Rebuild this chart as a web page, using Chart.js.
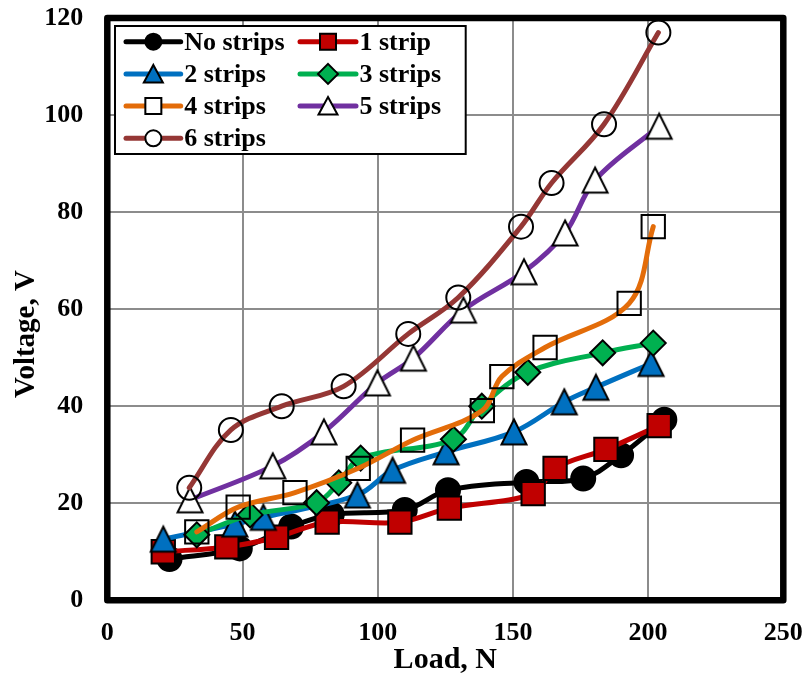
<!DOCTYPE html>
<html>
<head>
<meta charset="utf-8">
<script src="https://cdn.jsdelivr.net/npm/chart.js@4.4.1/dist/chart.umd.min.js"></script>
<style>
  html, body { margin: 0; padding: 0; background: #fff; }
  #wrap { width: 806px; height: 682px; }
</style>
</head>
<body>
<div id="wrap"><canvas id="c" width="806" height="682"></canvas></div>
<script>
// Voltage (V) against load (N) for strip counts 0 to 6
const seriesNames = ['No strips', '1 strip', '2 strips', '3 strips', '4 strips', '5 strips', '6 strips'];

const load0 = [23.0, 49.0, 68.0, 83.0, 110.0, 126.0, 155.0, 176.0, 190.0, 206.0];
const volt0 = [8.5, 10.7, 15.2, 17.7, 18.6, 22.7, 24.4, 25.1, 29.9, 37.2];

const load1 = [20.7, 44.2, 62.6, 81.3, 108.2, 126.5, 157.5, 165.6, 184.4, 204.1];
const volt1 = [10.0, 11.0, 13.0, 16.1, 16.1, 19.0, 22.0, 27.2, 31.1, 36.0];

const load2 = [20.7, 47.2, 57.7, 92.5, 105.5, 125.3, 150.4, 169.0, 180.7, 201.1];
const volt2 = [12.6, 15.7, 17.1, 21.7, 26.8, 30.6, 34.7, 40.9, 43.9, 48.8];

const load3 = [33.1, 52.8, 77.4, 85.6, 93.7, 128.0, 138.5, 155.5, 183.2, 201.9];
const volt3 = [13.5, 17.6, 20.1, 24.2, 29.3, 33.2, 40.0, 47.0, 51.0, 53.0];

const load4 = [33.1, 48.4, 69.4, 92.8, 112.9, 138.7, 145.9, 161.9, 193.0, 201.9];
const volt4 = [14.1, 19.2, 22.2, 27.2, 33.0, 39.1, 46.1, 52.1, 61.2, 77.0];

const load5 = [30.6, 61.2, 80.1, 99.9, 113.2, 131.7, 154.1, 169.3, 180.4, 204.1];
const volt5 = [20.7, 27.7, 34.7, 44.8, 49.9, 59.8, 67.7, 75.7, 86.6, 97.7];

const load6 = [30.3, 45.7, 64.5, 87.4, 111.3, 129.8, 153.0, 164.3, 183.7, 203.8];
const volt6 = [23.2, 35.1, 40.0, 44.1, 54.9, 62.4, 77.0, 86.0, 98.1, 117.0];

const loads = [load0, load1, load2, load3, load4, load5, load6];
const volts = [volt0, volt1, volt2, volt3, volt4, volt5, volt6];

const xTicks = [0, 50, 100, 150, 200, 250];
const yTicks = [0, 20, 40, 60, 80, 100, 120];

const lineColors = ['#000000', '#C00000', '#0070C0', '#00B050', '#E36C09', '#7030A0', '#953735'];
const markerKinds = ['dot', 'square', 'tri', 'diamond', 'openSquare', 'openTri', 'ring'];
const markerFills = ['#000000', '#C00000', '#0070C0', '#00B050', 'rgba(0,0,0,0)', '#FFFFFF', 'rgba(0,0,0,0)'];

const FONT = '"Liberation Serif", "Times New Roman", serif';

// Isosceles triangle marker (as tall as it is wide), centred on its bounding box
function triangleImage(fill) {
  const c = document.createElement('canvas');
  c.width = 30; c.height = 30;
  const g = c.getContext('2d');
  g.beginPath();
  g.moveTo(15, 2.5);
  g.lineTo(27.5, 27.5);
  g.lineTo(2.5, 27.5);
  g.closePath();
  g.fillStyle = fill;
  g.fill();
  g.lineWidth = 2;
  g.strokeStyle = '#000';
  g.stroke();
  return c;
}

function pointProps(kind, fill) {
  switch (kind) {
    case 'dot': return { pointStyle: 'circle', pointRadius: 12 };
    case 'ring': return { pointStyle: 'circle', pointRadius: 12 };
    case 'square':
    case 'openSquare': return { pointStyle: 'rect', pointRadius: 16.5 };
    case 'diamond': return { pointStyle: 'rectRot', pointRadius: 12.5 };
    case 'tri':
    case 'openTri': return { pointStyle: triangleImage(fill), pointRadius: 15 };
  }
}

const datasets = seriesNames.map((name, i) => Object.assign({
  label: name,
  data: loads[i].map((x, k) => ({ x: x, y: volts[i][k] })),
  borderColor: lineColors[i],
  borderWidth: 5,
  borderCapStyle: 'round',
  borderJoinStyle: 'round',
  tension: 0.35,
  pointBackgroundColor: markerFills[i],
  pointBorderColor: '#000000',
  pointBorderWidth: 2,
  pointHoverRadius: 0,
  fill: false,
  clip: false,
  order: 10 - i
}, pointProps(markerKinds[i], markerFills[i])));

// Thick rounded frame around the plotting area
const frame = {
  id: 'frame',
  beforeDatasetsDraw(chart) {
    const { ctx, chartArea: a } = chart;
    ctx.save();
    ctx.lineWidth = 6.5;
    ctx.lineJoin = 'round';
    ctx.strokeStyle = '#000';
    ctx.strokeRect(a.left, a.top, a.right - a.left, a.bottom - a.top);
    ctx.restore();
  }
};

function legendMarker(ctx, kind, fill, x, y) {
  ctx.save();
  ctx.strokeStyle = '#000';
  ctx.lineWidth = 2;
  ctx.beginPath();
  if (kind === 'dot' || kind === 'ring') {
    ctx.arc(x, y, 8, 0, Math.PI * 2);
  } else if (kind === 'square' || kind === 'openSquare') {
    ctx.rect(x - 8, y - 8, 16, 16);
  } else if (kind === 'diamond') {
    ctx.moveTo(x, y - 10); ctx.lineTo(x + 10, y); ctx.lineTo(x, y + 10); ctx.lineTo(x - 10, y);
    ctx.closePath();
  } else {
    ctx.moveTo(x, y - 9); ctx.lineTo(x + 9.5, y + 8.5); ctx.lineTo(x - 9.5, y + 8.5);
    ctx.closePath();
  }
  ctx.fillStyle = (fill === 'rgba(0,0,0,0)') ? '#FFFFFF' : fill;
  ctx.fill();
  ctx.stroke();
  ctx.restore();
}

// Two-column boxed legend in the upper left of the plot, plus the vertical axis title
const boxLegend = {
  id: 'boxLegend',
  afterDraw(chart) {
    const { ctx, chartArea: a } = chart;
    const bx = a.left + 7.7, by = a.top + 8, bw = 350.7, bh = 128;
    ctx.save();
    ctx.fillStyle = '#fff';
    ctx.fillRect(bx, by, bw, bh);
    ctx.lineWidth = 2;
    ctx.strokeStyle = '#000';
    ctx.strokeRect(bx, by, bw, bh);

    const cols = [{ x0: bx + 11, x1: bx + 65.7 }, { x0: bx + 185, x1: bx + 241 }];
    ctx.font = 'bold 26px ' + FONT;
    ctx.textBaseline = 'alphabetic';
    ctx.textAlign = 'left';
    chart.data.datasets.forEach((ds, i) => {
      const col = cols[i % 2];
      const y = by + 15.7 + Math.floor(i / 2) * 32.2;
      ctx.beginPath();
      ctx.lineWidth = 5;
      ctx.lineCap = 'round';
      ctx.strokeStyle = ds.borderColor;
      ctx.moveTo(col.x0, y);
      ctx.lineTo(col.x1, y);
      ctx.stroke();
      legendMarker(ctx, markerKinds[i], markerFills[i], (col.x0 + col.x1) / 2, y);
      ctx.fillStyle = '#000';
      ctx.fillText(ds.label, col.x1 + 3.5, y + 8);
    });

    ctx.translate(34, a.top + 316);
    ctx.rotate(-Math.PI / 2);
    ctx.font = 'bold 29px ' + FONT;
    ctx.textAlign = 'center';
    ctx.textBaseline = 'alphabetic';
    ctx.fillStyle = '#000';
    ctx.fillText('Voltage, V', 0, 0);
    ctx.restore();
  }
};

const gridStyle = { color: '#8c8c8c', lineWidth: 2, drawTicks: false };
const tickFont = { family: FONT, size: 26, weight: 'bold' };

// fixed axis sizes; tick-label overhang is absorbed by the outer padding
function fixSize(prop, size) {
  return s => {
    s[prop] = size;
    s.paddingTop = 0; s.paddingBottom = 0; s.paddingLeft = 0; s.paddingRight = 0;
  };
}

new Chart(document.getElementById('c'), {
  type: 'line',
  data: { datasets: datasets },
  options: {
    responsive: false,
    animation: false,
    devicePixelRatio: 1,
    events: [],
    layout: { autoPadding: false, padding: { left: 0, top: 18, right: 22.7, bottom: 0 } },
    plugins: { legend: { display: false }, tooltip: { enabled: false } },
    scales: {
      x: {
        type: 'linear',
        min: xTicks[0],
        max: xTicks[xTicks.length - 1],
        afterBuildTicks: s => { s.ticks = xTicks.map(v => ({ value: v })); },
        afterFit: fixSize('height', 81.7),
        grid: gridStyle,
        border: { display: false },
        ticks: { font: tickFont, color: '#000', padding: 17, maxRotation: 0 },
        title: {
          display: true,
          text: 'Load, N',
          color: '#000',
          font: { family: FONT, size: 30, weight: 'bold' },
          padding: { top: 0, bottom: 4 }
        }
      },
      y: {
        type: 'linear',
        min: yTicks[0],
        max: yTicks[yTicks.length - 1],
        afterBuildTicks: s => { s.ticks = yTicks.map(v => ({ value: v })); },
        afterFit: fixSize('width', 107.3),
        grid: gridStyle,
        border: { display: false },
        ticks: { font: tickFont, color: '#000', padding: 24 }
      }
    }
  },
  plugins: [frame, boxLegend]
});
</script>
</body>
</html>
